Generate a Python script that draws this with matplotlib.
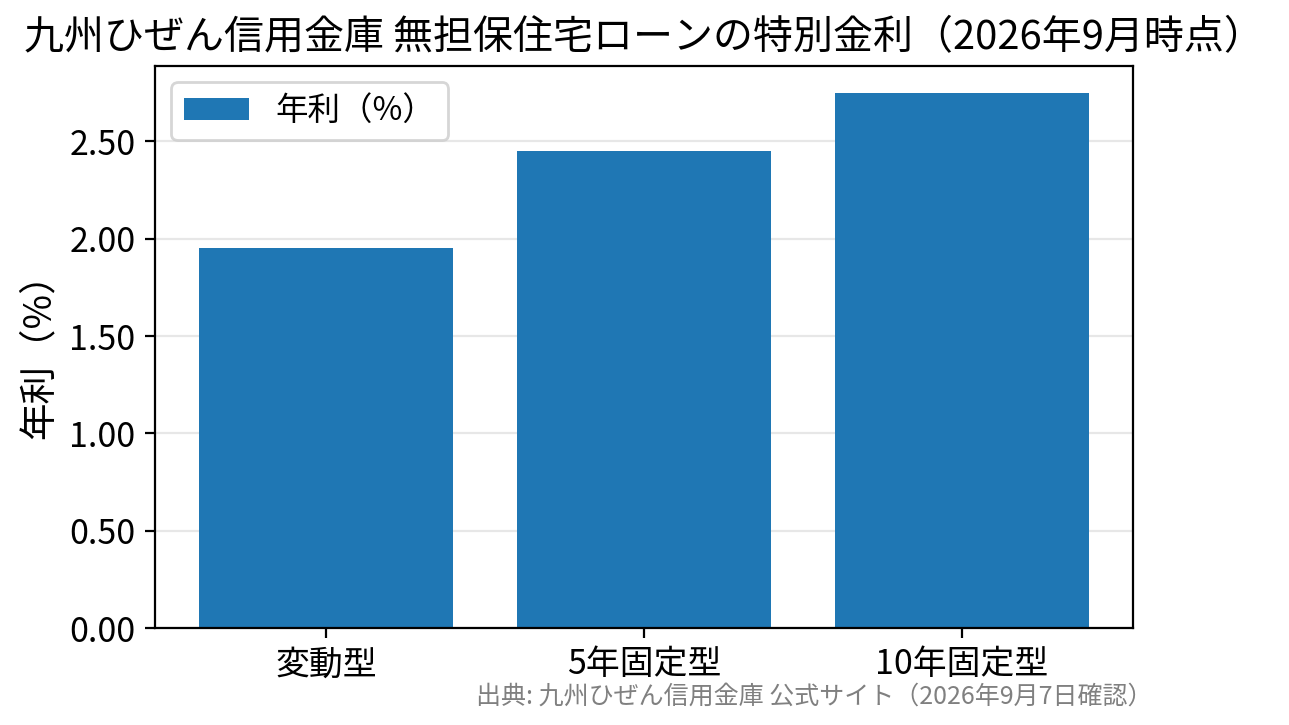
import matplotlib
matplotlib.use("Agg")
import matplotlib.pyplot as plt

plt.rcParams["font.family"] = ["Noto Sans CJK JP", "DejaVu Sans"]

categories = ["変動型", "5年固定型", "10年固定型"]
rates = [1.95, 2.45, 2.75]

fig = plt.figure(figsize=(12.89 / 2, 7.25 / 2), dpi=200)
ax = fig.add_axes([155 / 1289, 1 - 628 / 725, (1133 - 155) / 1289, (628 - 66) / 725])

ax.bar(categories, rates, color="#1f77b4", label="年利（%）", zorder=2)
ax.grid(axis="y", alpha=0.3, zorder=0)
ax.set_axisbelow(True)
ax.yaxis.set_major_formatter(matplotlib.ticker.FormatStrFormatter("%.2f"))
ax.tick_params(labelsize=12.2)
ax.set_ylabel("年利（%）", fontsize=13.5)
ax.set_title("九州ひぜん信用金庫 無担保住宅ローンの特別金利（2026年9月時点）", fontsize=14.4)
ax.legend(loc="upper left", fontsize=11.7)

fig.text(1152 / 1289, 1 - 697 / 725, "出典: 九州ひぜん信用金庫 公式サイト（2026年9月7日確認）",
         ha="right", va="center", fontsize=9, color="gray")

fig.savefig("out.png", dpi=200)
